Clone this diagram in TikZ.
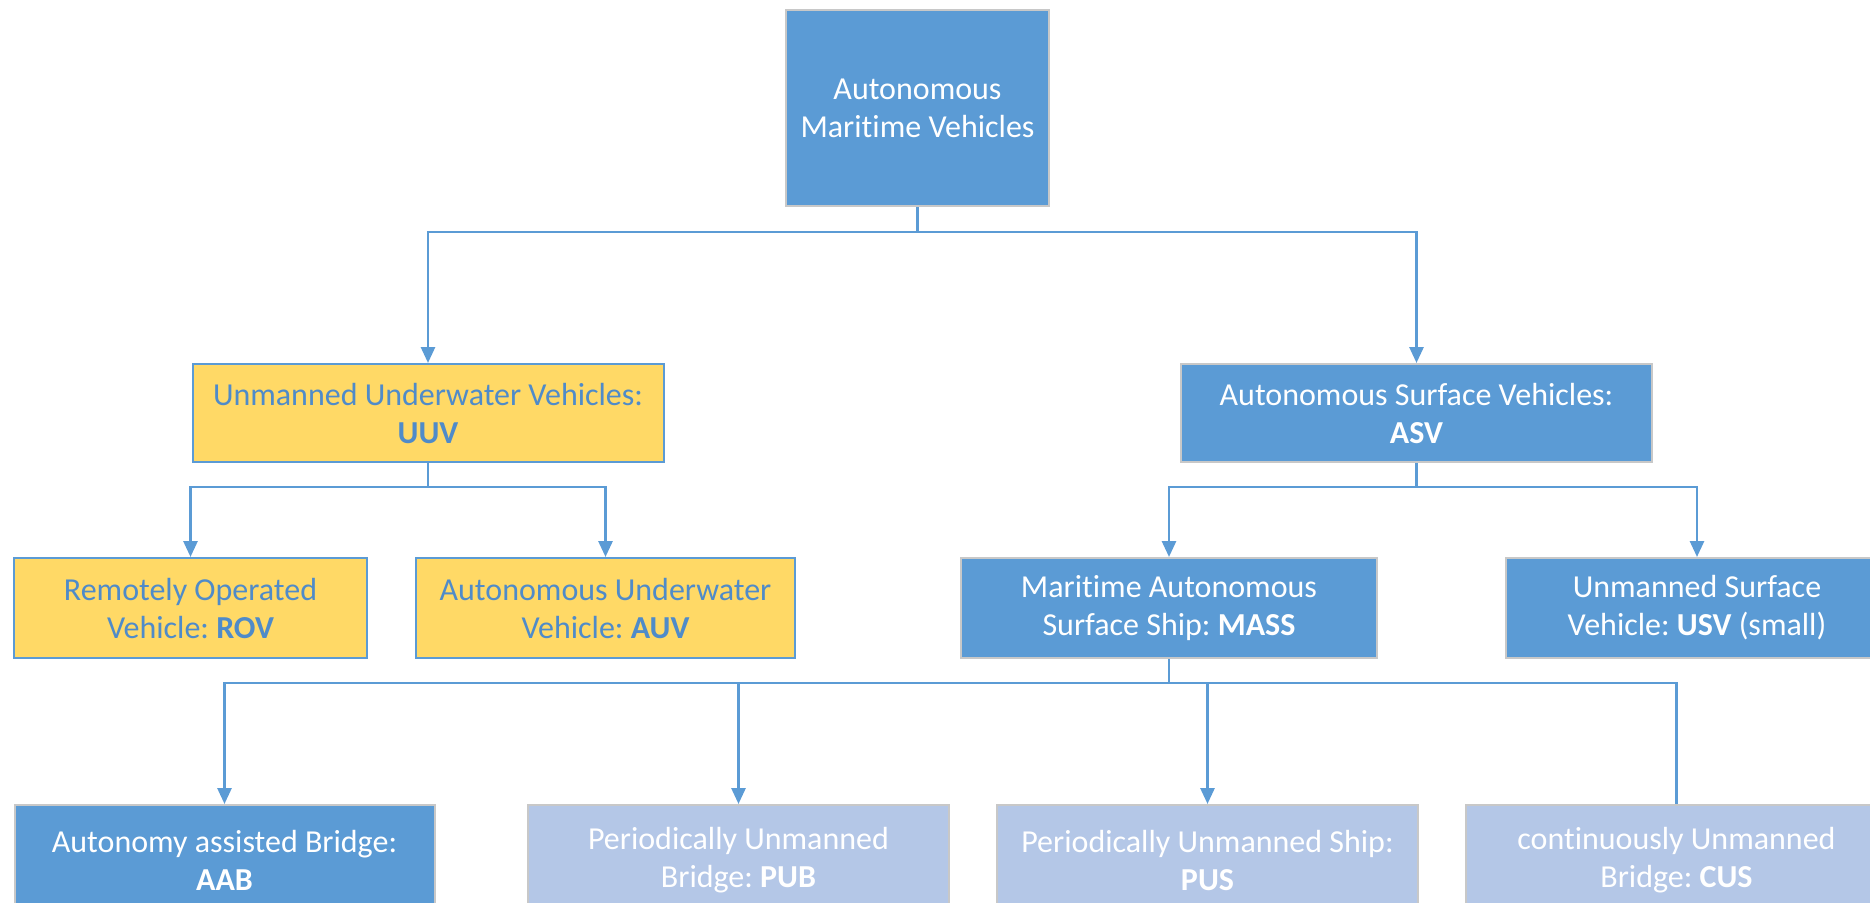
\documentclass[tikz,border=0pt]{standalone}
\usepackage{fontspec}
\setmainfont{Carlito}[Ligatures={NoCommon,NoContextual},Contextuals=NoAlternate]
\frenchspacing
\usetikzlibrary{arrows.meta}
\definecolor{boxblue}{HTML}{5B9BD5}
\definecolor{boxgold}{HTML}{FFD966}
\definecolor{boxpale}{HTML}{B4C7E7}
\definecolor{lineblue}{HTML}{5B9BD5}
\definecolor{inkblue}{RGB}{79,139,201}
\definecolor{rimgray}{HTML}{C8C8C8}
\tikzset{
  box/.style={rectangle, inner sep=0pt, align=center, font=\fontsize{16}{19}\selectfont},
  bluebox/.style={box, fill=boxblue, draw=rimgray, line width=1pt, text=white},
  goldbox/.style={box, fill=boxgold, draw=lineblue, line width=1pt, text=inkblue},
  palebox/.style={box, fill=boxpale, draw=rimgray, line width=1pt, text=white},
  wire/.style={draw=lineblue, line width=1.4pt},
  wirearrow/.style={wire, -{Triangle[length=8pt,width=7pt]}}
}
\begin{document}
\begin{tikzpicture}[x=0.5pt,y=-0.5pt]
    \useasboundingbox (0,0) rectangle (1870,902);
    \clip (0,0) rectangle (1870,902);

    \node [bluebox, minimum width=131.5pt, minimum height=98pt] (amv) at (917.5,108)
        {Autonomous\\Maritime Vehicles};

    \node [goldbox, minimum width=235.5pt, minimum height=49pt] (uuv) at (428,413)
        {Unmanned Underwater Vehicles:\\\textbf{UUV}};
    \node [bluebox, minimum width=235.5pt, minimum height=49pt] (asv) at (1416.5,413)
        {Autonomous Surface Vehicles:\\\textbf{ASV}};

    \node [goldbox, minimum width=176.5pt, minimum height=50pt] (rov) at (190.5,608)
        {Remotely Operated\\Vehicle: \textbf{ROV}};
    \node [goldbox, minimum width=189.5pt, minimum height=50pt] (auv) at (605.5,608)
        {Autonomous Underwater\\Vehicle: \textbf{AUV}};
    \node [bluebox, minimum width=208pt, minimum height=50pt] (mass) at (1169,608)
        {Maritime Autonomous\\Surface Ship: \textbf{MASS}};
    \node [bluebox, minimum width=191pt, minimum height=50pt] (usv) at (1697,608)
        {Unmanned Surface\\Vehicle: \textbf{USV} (small)};

    \node [bluebox, minimum width=210pt, minimum height=55pt] (aab) at (224.5,860)
        {Autonomy assisted Bridge:\\\textbf{AAB}};
    \node [palebox, minimum width=210.5pt, minimum height=55pt] (pub) at (738.5,860)
        {Periodically Unmanned\\Bridge: \textbf{PUB}};
    \node [palebox, minimum width=210.5pt, minimum height=55pt] (pus) at (1207.5,860)
        {Periodically Unmanned Ship:\\\textbf{PUS}};
    \node [palebox, minimum width=210.5pt, minimum height=55pt] (cus) at (1676.5,860)
        {continuously Unmanned\\Bridge: \textbf{CUS}};

    \coordinate (topbus) at (917.5,232);
    \coordinate (uuvbus) at (428,487);
    \coordinate (asvbus) at (1416.5,487);
    \coordinate (massbus) at (1169,683);

    \draw [wire] (amv.south) -- (topbus);
    \draw [wirearrow] (topbus) -| (uuv.north);
    \draw [wirearrow] (topbus) -| (asv.north);

    \draw [wire] (uuv.south) -- (uuvbus);
    \draw [wirearrow] (uuvbus) -| (rov.north);
    \draw [wirearrow] (uuvbus) -| (auv.north);

    \draw [wire] (asv.south) -- (asvbus);
    \draw [wirearrow] (asvbus) -| (mass.north);
    \draw [wirearrow] (asvbus) -| (usv.north);

    \draw [wire] (mass.south) -- (massbus);
    \draw [wirearrow] (massbus) -| (aab.north);
    \draw [wirearrow] (massbus) -| (pub.north);
    \draw [wirearrow] (massbus) -| (pus.north);
    \draw [wire] (massbus) -| (cus.north);
\end{tikzpicture}
\end{document}
